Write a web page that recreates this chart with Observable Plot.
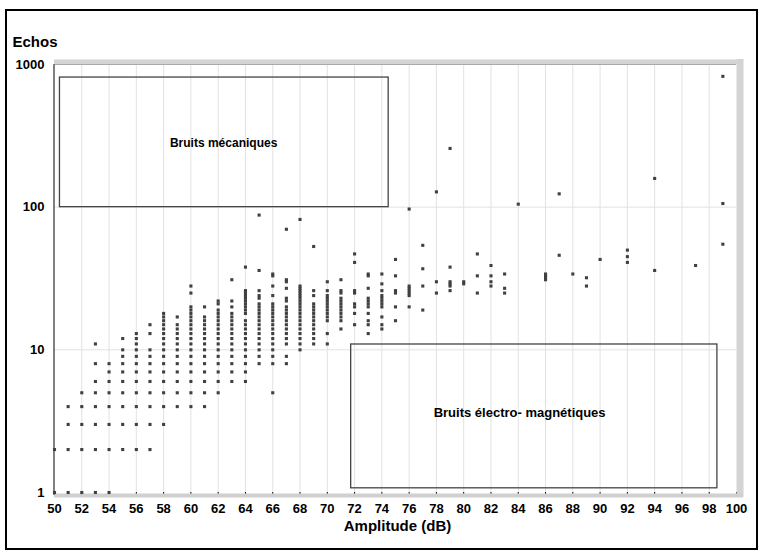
<!DOCTYPE html>
<html><head><meta charset="utf-8">
<script src="https://cdn.jsdelivr.net/npm/d3@7"></script>
<script src="https://cdn.jsdelivr.net/npm/@observablehq/plot@0.6"></script>
<style>
body{margin:0;background:#fff;}
#wrap{position:relative;width:763px;height:556px;background:#fff;}
#border{position:absolute;left:5px;top:9px;width:753px;height:541px;border:2px solid #000;box-sizing:border-box;pointer-events:none;}
</style></head><body>
<div id="wrap"></div>
<script>
// Amplitude (dB) columns and the echo counts observed in each
const amplitude = [50,51,52,53,54,55,56,57,58,59,60,61,62,63,64,65,66,67,68,69,70,71,72,73,74,75,76,77,78,79,80,81,82,83,84,86,87,88,89,90,92,94,97,99];
const echoes = [
  [1,2],
  [1,2,3,4],
  [1,2,3,4,5],
  [1,2,3,4,5,6,8,11],
  [1,2,3,4,5,6,7,8],
  [2,3,4,5,6,7,8,9,10,12],
  [2,3,4,5,6,7,8,9,10,11,12,13],
  [2,3,4,5,6,7,8,9,10,13,15],
  [3,4,5,6,7,8,9,10,11,12,13,14,15,16,17,18],
  [4,5,6,7,8,9,10,11,12,13,14,15,17],
  [4,5,6,7,8,9,10,11,12,13,14,15,16,17,18,19,20,25,28],
  [4,5,6,7,8,9,10,11,12,13,14,15,16,17,20],
  [5,6,7,8,9,10,11,12,13,14,15,16,17,18,19,21,22],
  [6,7,8,9,10,11,12,13,14,15,16,17,18,20,22,31],
  [6,7,8,9,10,11,12,13,14,15,16,18,19,20,21,22,23,24,25,26,38],
  [8,9,10,11,12,13,14,15,16,17,18,19,20,21,23,24,26,36,88],
  [5,8,9,10,11,12,13,14,15,16,17,18,19,20,21,24,28,33,34],
  [8,9,11,12,13,14,15,16,17,18,19,20,22,23,27,30,31,70],
  [10,11,12,13,14,15,16,17,18,19,20,21,22,23,24,25,26,27,28,82],
  [11,12,13,14,15,16,17,18,19,20,21,24,26,53],
  [11,13,16,17,18,19,20,21,22,23,24,26,30],
  [14,16,17,18,19,20,21,22,23,25,26,31],
  [15,18,20,21,25,26,41,47],
  [13,15,16,18,20,21,22,23,27,33,34],
  [14,15,17,20,21,22,23,24,26,29,34],
  [16,20,25,26,33,43],
  [20,24,25,26,27,28,97],
  [19,28,37,54],
  [25,30,128],
  [26,28,29,30,38,258],
  [29,30],
  [25,33,47],
  [28,30,33,39],
  [25,27,34],
  [105],
  [31,32,33,34],
  [46,124],
  [34],
  [28,32],
  [43],
  [41,45,50],
  [36,159],
  [39],
  [55,106,826]
];
const xTicks = [50,52,54,56,58,60,62,64,66,68,70,72,74,76,78,80,82,84,86,88,90,92,94,96,98,100];
const xGrid = [52,54,56,58,60,62,64,66,68,70,72,74,76,78,80,82,84,86,88,90,92,94,96,98];
const yTicks = [1,10,100,1000];
const yGrid = [10,100];
// annotation boxes (data space)
const boxNames = ["Bruits mécaniques", "Bruits électro- magnétiques"];
const boxX1 = [50.4, 71.75];
const boxX2 = [74.5, 98.6];
const boxY1 = [100, 1.07];
const boxY2 = [810, 10.9];
const labelX = [62.4, 84.1];
const labelY = [279, 3.64];

const points = amplitude.flatMap((a, i) => echoes[i].map(e => ({amplitude: a, echos: e})));
const boxes = boxNames.map((n, i) => ({name: n, x1: boxX1[i], x2: boxX2[i], y1: boxY1[i], y2: boxY2[i], lx: labelX[i], ly: labelY[i]}));

const font = "'Liberation Sans', Arial, sans-serif";
const chart = Plot.plot({
  width: 763,
  height: 556,
  marginLeft: 54,
  marginRight: 27,
  marginTop: 64,
  marginBottom: 64,
  style: {fontFamily: font, fontWeight: "bold", fontSize: "13px", color: "#000", background: "transparent", overflow: "visible"},
  x: {domain: [50, 100], ticks: xTicks, tickFormat: d => String(d), tickSize: 3, tickPadding: 8, label: null},
  y: {type: "log", domain: [1, 1000], ticks: yTicks, tickFormat: d => String(d), tickSize: 0, tickPadding: 10, label: null},
  marks: [
    Plot.ruleX(xGrid, {stroke: "#e2e2e2", strokeWidth: 1}),
    Plot.ruleY(yGrid, {stroke: "#e2e2e2", strokeWidth: 1}),
    Plot.ruleY([1000], {stroke: "#d4d4d4", strokeWidth: 5, dy: -2.5, insetRight: -7}),
    Plot.ruleY([1000], {stroke: "#a8a8a8", strokeWidth: 1}),
    Plot.ruleX([100], {stroke: "#d4d4d4", strokeWidth: 7, dx: 3.5, insetTop: -5, insetBottom: -5}),
    Plot.ruleY([1], {stroke: "#d0d0d0", strokeWidth: 4, dy: 3, insetRight: -7}),
    Plot.ruleX([50], {stroke: "#808080", strokeWidth: 2, dx: -0.5, insetBottom: -3}),
    Plot.rect(boxes, {x1: "x1", x2: "x2", y1: "y1", y2: "y2", fill: "none", stroke: "#444", strokeWidth: 1.3}),
    Plot.text(boxes.slice(0, 1), {x: "lx", y: "ly", text: "name", fontSize: 12, fontWeight: "bold", fill: "#000"}),
    Plot.text(boxes.slice(1), {x: "lx", y: "ly", text: "name", fontSize: 13, fontWeight: "bold", fill: "#000"}),
    Plot.dot(points, {x: "amplitude", y: "echos", symbol: "square", r: 1.75, fill: "#404040", stroke: "none"}),
    Plot.text(["Amplitude (dB)"], {frameAnchor: "bottom", lineAnchor: "middle", dy: 34, dx: 2, fontSize: 15, fontWeight: "bold", fill: "#000"}),
    Plot.text(["Echos"], {frameAnchor: "top-left", lineAnchor: "middle", dx: -42, dy: -22, textAnchor: "start", fontSize: 15, fontWeight: "bold", fill: "#000"})
  ]
});
const wrap = document.getElementById("wrap");
wrap.appendChild(chart);
const b = document.createElement("div");
b.id = "border";
wrap.appendChild(b);
</script>
</body></html>
